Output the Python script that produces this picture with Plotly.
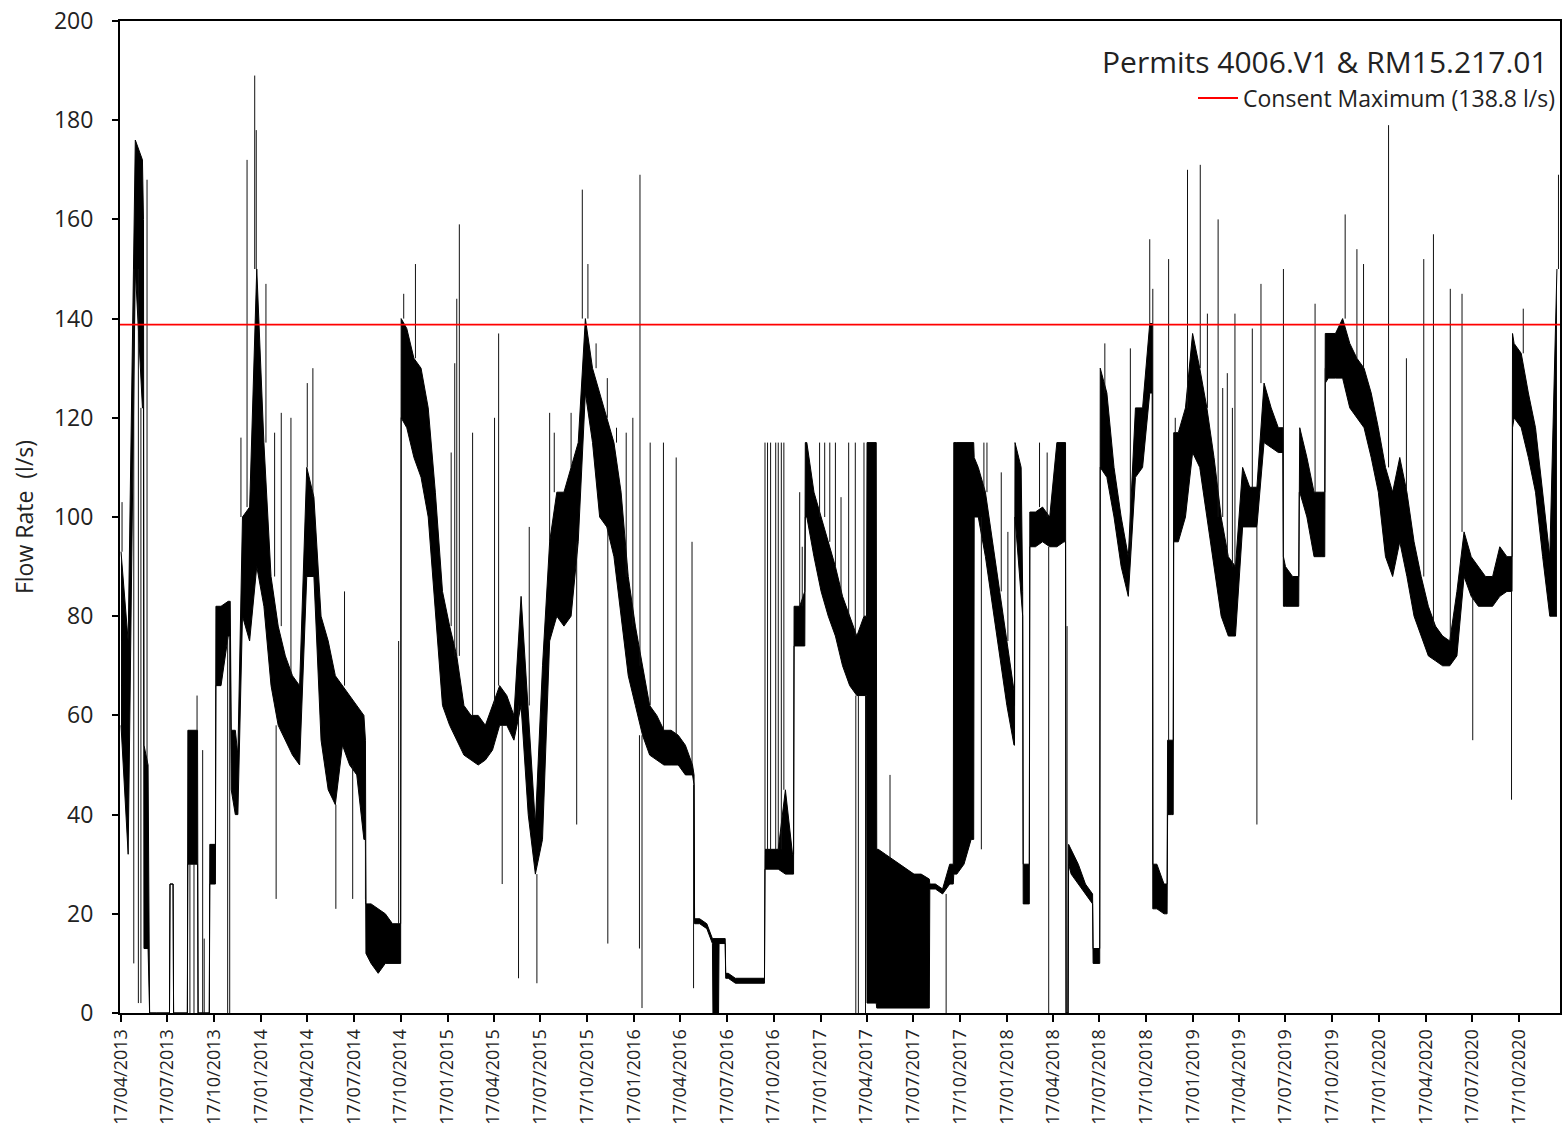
import pandas as pd
import plotly.graph_objects as go

# ---------------- data ----------------
# Fortnightly envelope of the flow record: value i is read at series_start + 14*i.
series_start = "2013-04-17"
period_days = 14

flow_high = [
    93, 75, 176, 172, 0, 0, 0, 26, 0, 0, 57, 0, 0, 34, 82, 83, 57, 100, 102, 150,
    115, 88, 78, 72, 68, 66, 110, 104, 80, 75, 68, 66, 64, 62, 60, 22, 21, 20, 18, 18,
    138, 132, 130, 122, 105, 85, 78, 72, 62, 60, 60, 58, 62, 66, 64, 60, 84, 62, 38, 70,
    95, 105, 105, 110, 115, 140, 130, 125, 120, 115, 105, 88, 78, 70, 62, 60, 57, 57, 56, 54,
    50, 19, 18, 15, 15, 8, 7, 7, 7, 7, 7, 33, 33, 45, 32, 82, 115, 105, 100, 95,
    90, 84, 80, 76, 80, 115, 33, 32, 31, 30, 29, 28, 28, 27, 26, 25, 30, 115, 115, 115,
    110, 105, 95, 85, 75, 65, 110, 30, 101, 102, 100, 115, 115, 33, 30, 26, 24, 13, 125, 110,
    100, 92, 122, 122, 139, 30, 26, 55, 117, 122, 137, 130, 122, 112, 100, 92, 90, 110, 106, 106,
    127, 122, 118, 90, 88, 118, 112, 105, 105, 137, 137, 140, 135, 132, 130, 125, 118, 110, 105, 112,
    105, 95, 88, 82, 78, 76, 75, 85, 97, 92, 90, 88, 88, 94, 92, 135, 133, 125, 118, 105,
    92, 150,
]
flow_low = [
    58, 32, 150, 122, 0, 0, 0, 26, 0, 0, 30, 0, 0, 26, 66, 76, 40, 80, 75, 90,
    82, 66, 58, 55, 52, 50, 88, 88, 55, 45, 42, 54, 50, 48, 35, 10, 8, 10, 10, 10,
    118, 112, 108, 100, 80, 62, 58, 55, 52, 51, 50, 51, 53, 58, 58, 55, 62, 40, 28, 35,
    75, 80, 78, 80, 95, 125, 115, 100, 98, 92, 80, 68, 62, 56, 52, 51, 50, 50, 50, 48,
    48, 18, 17, 0, 14, 7, 6, 6, 6, 6, 6, 29, 29, 28, 28, 74, 100, 92, 85, 80,
    76, 70, 66, 64, 64, 2, 1, 1, 1, 1, 1, 1, 1, 1, 25, 24, 26, 28, 30, 35,
    100, 92, 82, 72, 62, 54, 85, 22, 94, 95, 94, 94, 95, 28, 26, 24, 22, 10, 108, 100,
    90, 84, 108, 110, 125, 21, 20, 40, 95, 100, 113, 110, 100, 90, 80, 76, 76, 98, 98, 98,
    115, 114, 113, 82, 82, 105, 100, 92, 92, 128, 128, 128, 122, 120, 118, 112, 105, 92, 88, 95,
    88, 80, 76, 72, 71, 70, 70, 72, 88, 84, 82, 82, 82, 84, 85, 120, 118, 112, 105, 92,
    80, 80,
]

# extra envelope readings either side of abrupt level changes
edge_dates = [
    "2013-05-31", "2013-06-01", "2013-06-09", "2013-06-11",
    "2013-07-21", "2013-07-22", "2013-07-28", "2013-07-29",
    "2013-08-25", "2013-08-26", "2013-09-14", "2013-09-15",
    "2013-10-07", "2013-10-08", "2013-10-19", "2013-10-20", "2013-11-17", "2013-11-19",
    "2013-12-02",
    "2014-08-09", "2014-08-10", "2014-10-17", "2014-10-18",
    "2016-05-14", "2016-05-15", "2016-06-19", "2016-06-20", "2016-07-01", "2016-07-02",
    "2016-07-14", "2016-07-15", "2016-09-29", "2016-09-30",
    "2016-11-25", "2016-11-26", "2016-12-17", "2016-12-18",
    "2017-04-17", "2017-04-18", "2017-05-06", "2017-05-07", "2017-08-18", "2017-08-19",
    "2017-10-04", "2017-10-05", "2017-11-13", "2017-11-14",
    "2018-02-01", "2018-02-02", "2018-02-17", "2018-02-18", "2018-03-02", "2018-03-03",
    "2018-05-12", "2018-05-13", "2018-05-17", "2018-05-18",
    "2018-07-04", "2018-07-05", "2018-07-18", "2018-07-19",
    "2018-10-29", "2018-10-30", "2018-11-27", "2018-11-28", "2018-12-09", "2018-12-10",
    "2019-07-12", "2019-07-13", "2019-08-12", "2019-08-13", "2019-10-02", "2019-10-03",
    "2020-10-03", "2020-10-04",
]
edge_high = [
    160, 54, 50, 0,
    0, 26, 26, 0,
    0, 57, 57, 0,
    0, 34, 34, 82, 83, 57,
    52,
    55, 22, 18, 140,
    48, 19, 15, 15, 15, 15,
    15, 8, 7, 33,
    32, 82, 85, 115,
    80, 115, 115, 33, 27, 26,
    30, 115, 115, 112,
    62, 115, 85, 30, 30, 101,
    115, 0, 0, 34,
    24, 13, 13, 130,
    139, 30, 26, 55, 55, 117,
    118, 92, 88, 118, 105, 137,
    92, 137,
]
edge_low = [
    122, 13, 13, 0,
    0, 26, 26, 0,
    0, 30, 30, 0,
    0, 26, 26, 66, 76, 45,
    40,
    35, 12, 10, 120,
    46, 18, 14, 0, 0, 14,
    14, 7, 6, 29,
    28, 74, 74, 100,
    64, 2, 2, 1, 1, 25,
    26, 28, 35, 100,
    54, 100, 80, 22, 22, 94,
    95, 0, 0, 30,
    22, 10, 10, 110,
    125, 21, 20, 40, 40, 95,
    113, 82, 82, 105, 92, 127,
    85, 118,
]

spike_dates = [
    "2013-04-19", "2013-05-12", "2013-05-21", "2013-05-26", "2013-06-07", "2013-08-30",
    "2013-09-07", "2013-09-13", "2013-09-24", "2013-09-27", "2013-11-12", "2013-11-16",
    "2013-12-08", "2013-12-20", "2014-01-04", "2014-01-07", "2014-01-26", "2014-02-12",
    "2014-02-15", "2014-02-25", "2014-03-16", "2014-04-17", "2014-04-28", "2014-06-12",
    "2014-06-29", "2014-07-15", "2014-08-09", "2014-10-13", "2014-10-23", "2014-11-15",
    "2015-01-24", "2015-01-31", "2015-02-04", "2015-02-09", "2015-03-07", "2015-04-19",
    "2015-04-27", "2015-05-04", "2015-06-05", "2015-06-26", "2015-07-11", "2015-08-05",
    "2015-08-14", "2015-09-16", "2015-09-27", "2015-10-08", "2015-10-19", "2015-11-04",
    "2015-11-26", "2015-11-27", "2015-12-14", "2016-01-02", "2016-01-15", "2016-01-28",
    "2016-01-29", "2016-02-02", "2016-02-18", "2016-03-15", "2016-04-09", "2016-05-10",
    "2016-05-13", "2016-09-30", "2016-10-05", "2016-10-11", "2016-10-21", "2016-10-26",
    "2016-11-01", "2016-11-06", "2016-12-07", "2016-12-12", "2017-01-15", "2017-01-25",
    "2017-02-04", "2017-02-15", "2017-02-26", "2017-03-13", "2017-03-26", "2017-03-27",
    "2017-04-01", "2017-04-12", "2017-04-15", "2017-06-02", "2017-09-20", "2017-11-28",
    "2017-12-03", "2017-12-09", "2018-01-06", "2018-01-19", "2018-02-02", "2018-03-22",
    "2018-04-06", "2018-04-09", "2018-05-15", "2018-05-17", "2018-07-28", "2018-09-16",
    "2018-10-24", "2018-10-30", "2018-11-30", "2018-12-13", "2019-01-06", "2019-01-31",
    "2019-02-14", "2019-03-07", "2019-03-16", "2019-03-25", "2019-04-04", "2019-04-09",
    "2019-05-13", "2019-05-22", "2019-05-30", "2019-07-13", "2019-09-13", "2019-10-03",
    "2019-11-11", "2019-12-04", "2019-12-17", "2020-02-04", "2020-03-10", "2020-04-13",
    "2020-05-02", "2020-06-04", "2020-06-27", "2020-07-18", "2020-10-02", "2020-10-25",
    "2021-01-02",
]
spike_values = [
    103, 10, 2, 2, 168, 0,
    0, 64, 53, 15, 0, 0,
    116, 172, 189, 178, 147, 117,
    23, 121, 120, 127, 130, 21,
    85, 23, 23, 75, 145, 151,
    113, 131, 144, 159, 117, 120,
    137, 26, 7, 98, 6, 121,
    117, 121, 38, 166, 151, 135,
    128, 14, 118, 117, 120, 13,
    169, 1, 115, 115, 112, 95,
    5, 115, 115, 115, 115, 115,
    115, 115, 105, 94, 115, 115,
    115, 115, 104, 115, 115, 0,
    0, 115, 0, 48, 0, 33,
    115, 115, 109, 97, 115, 115,
    113, 0, 78, 0, 135, 134,
    156, 146, 152, 120, 170, 171,
    141, 160, 126, 129, 122, 141,
    138, 38, 147, 150, 143, 130,
    161, 154, 151, 179, 132, 152,
    157, 146, 145, 55, 43, 142,
    169,
]

consent_max = 138.8
consent_label = "Consent Maximum (138.8 l/s)"
chart_title = "Permits 4006.V1 & RM15.217.01"
y_title = "Flow Rate\u00a0 (l/s)"

tick_dates = [
    "2013-04-17", "2013-07-17", "2013-10-17", "2014-01-17", "2014-04-17", "2014-07-17",
    "2014-10-17", "2015-01-17", "2015-04-17", "2015-07-17", "2015-10-17", "2016-01-17",
    "2016-04-17", "2016-07-17", "2016-10-17", "2017-01-17", "2017-04-17", "2017-07-17",
    "2017-10-17", "2018-01-17", "2018-04-17", "2018-07-17", "2018-10-17", "2019-01-17",
    "2019-04-17", "2019-07-17", "2019-10-17", "2020-01-17", "2020-04-17", "2020-07-17",
    "2020-10-17",
]
x_range = ["2013-04-15", "2021-01-05"]

# ---------------- build the traces ----------------
centres = pd.date_range(series_start, periods=len(flow_high), freq=f"{period_days}D")
band = pd.DataFrame({"date": list(centres) + list(pd.to_datetime(edge_dates)),
                     "high": list(flow_high) + list(edge_high),
                     "low": list(flow_low) + list(edge_low)})
band = band.sort_values("date", kind="stable").reset_index(drop=True)

# vertical spike segments, each starting from the nearest envelope reading
sx, sy = [], []
for d, v in zip(pd.to_datetime(spike_dates), spike_values):
    k = (band["date"] - d).abs().idxmin()
    hi, lo = band.at[k, "high"], band.at[k, "low"]
    base = hi if v >= hi else lo
    sx += [d, d, None]
    sy += [base, v, None]

FONT = "Open Sans"
INK = "#222222"

fig = go.Figure()
fig.add_trace(go.Scatter(
    x=band["date"], y=band["low"], mode="lines", line=dict(color="black", width=1),
    showlegend=False, hoverinfo="skip",
))
fig.add_trace(go.Scatter(
    x=band["date"], y=band["high"], mode="lines", line=dict(color="black", width=1),
    fill="tonexty", fillcolor="black", showlegend=False, hoverinfo="skip",
))
fig.add_trace(go.Scatter(
    x=sx, y=sy, mode="lines", line=dict(color="#111111", width=1),
    showlegend=False, hoverinfo="skip", connectgaps=False,
))
fig.add_trace(go.Scatter(
    x=x_range, y=[consent_max, consent_max], mode="lines",
    line=dict(color="#ff0000", width=1.8), name=consent_label,
))

fig.update_layout(
    width=1566, height=1135,
    margin=dict(l=120, r=4, t=21, b=122),
    paper_bgcolor="white", plot_bgcolor="white",
    font=dict(family=FONT, color=INK),
    showlegend=True,
    legend=dict(
        x=1.0, xanchor="right", y=0.944, yanchor="top",
        bgcolor="rgba(0,0,0,0)", font=dict(size=23, color=INK),
        itemwidth=40, tracegroupgap=0,
    ),
    annotations=[dict(
        text=chart_title, xref="paper", yref="paper", x=1.0, y=0.959,
        xanchor="right", yanchor="middle", xshift=-10, showarrow=False,
        font=dict(size=30, color=INK, family=FONT),
    )],
)
fig.update_xaxes(
    type="date", range=x_range,
    tickmode="array", tickvals=tick_dates, tickformat="%d/%m/%Y",
    tickangle=-90, tickfont=dict(size=18, color=INK),
    ticks="outside", ticklen=7, tickwidth=2, tickcolor="black",
    showline=True, linecolor="black", linewidth=2, mirror=True,
    showgrid=False, zeroline=False,
)
fig.update_yaxes(
    range=[0, 200], tickmode="linear", tick0=0, dtick=20,
    tickfont=dict(size=23, color=INK), ticklabelstandoff=14,
    ticks="outside", ticklen=6, tickwidth=2, tickcolor="black",
    showline=True, linecolor="black", linewidth=2, mirror=True,
    showgrid=False, zeroline=False,
    title=dict(text=y_title, font=dict(size=23, color=INK), standoff=14),
)

fig.write_html("out.html")
